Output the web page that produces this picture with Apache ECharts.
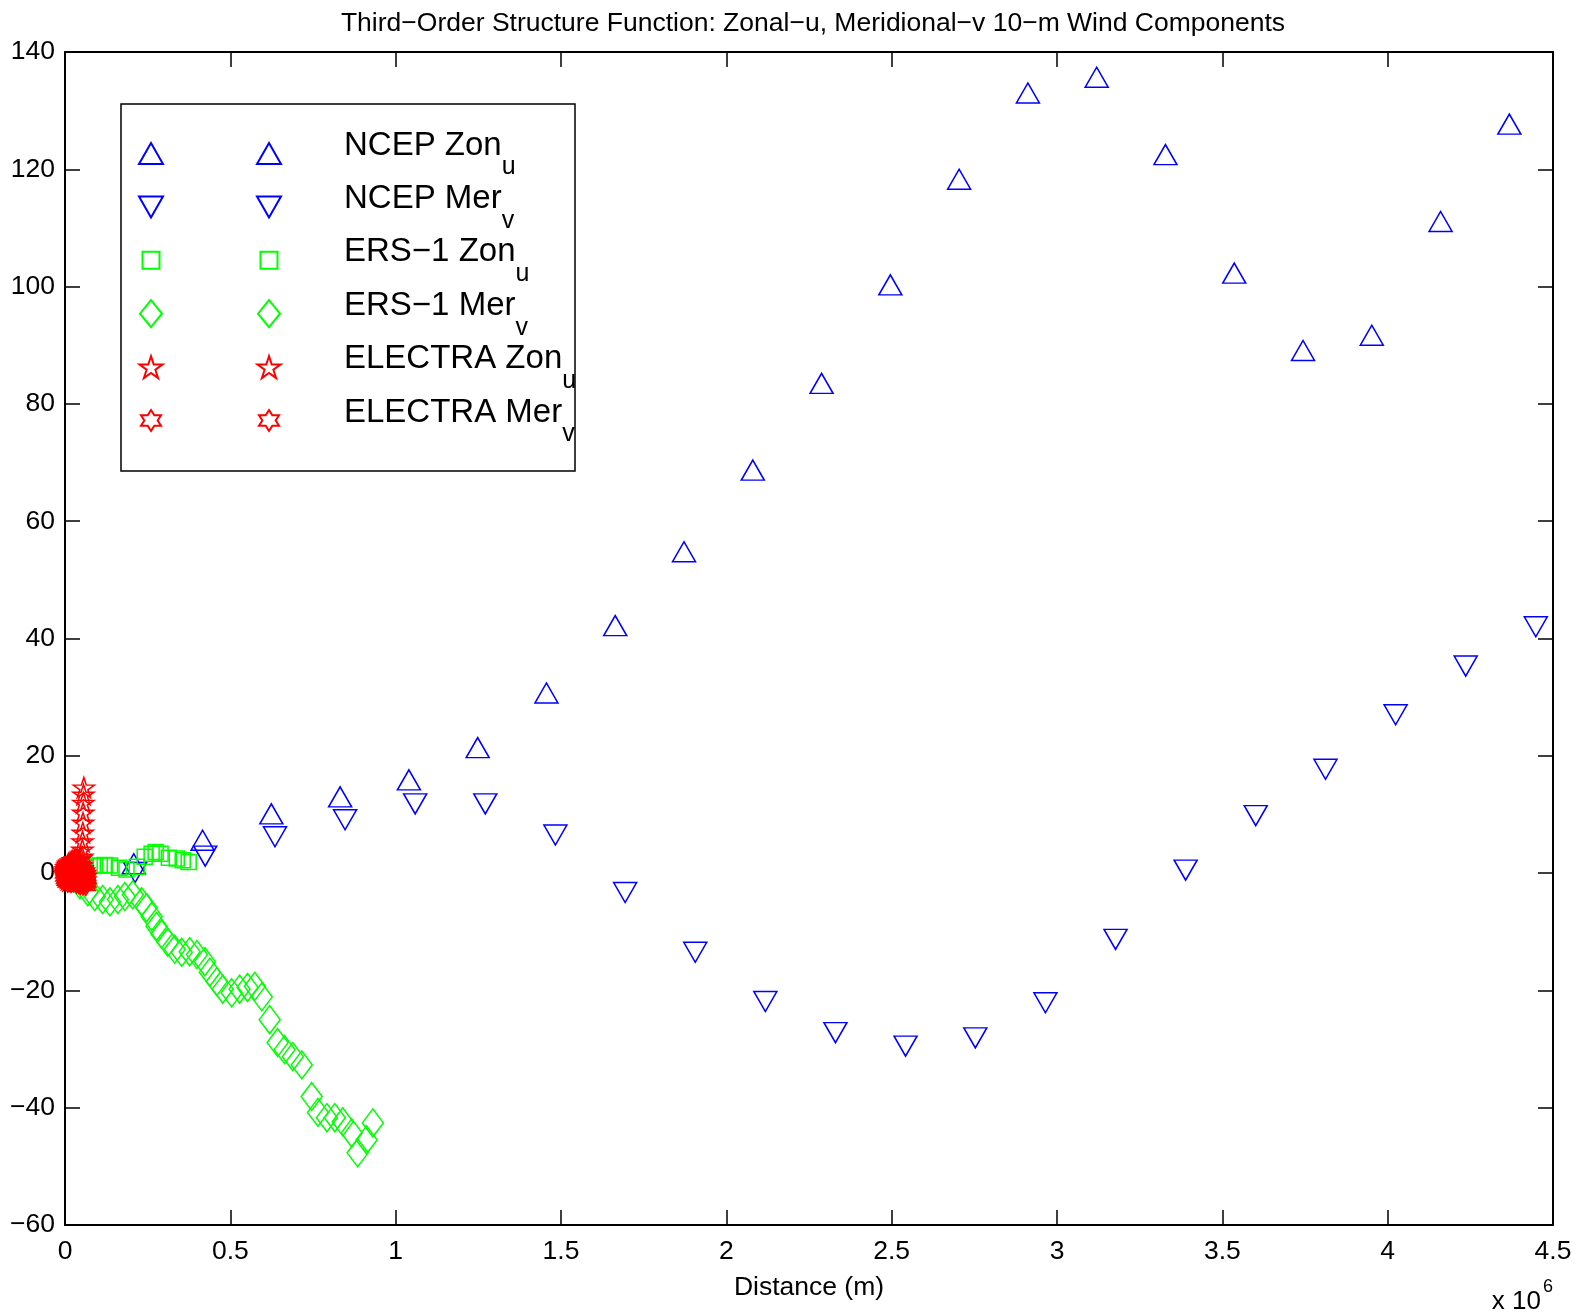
<!DOCTYPE html>
<html><head><meta charset="utf-8">
<script src="https://cdn.jsdelivr.net/npm/echarts@6/dist/echarts.min.js"></script>
<style>html,body{margin:0;padding:0;background:#fff}#c{width:1576px;height:1313px}</style>
</head><body><div id="c"></div><script>
// ---- data (distance in units of 1e6 m) ----
const ncepZonX = [0.208,0.416,0.624,0.832,1.040,1.248,1.456,1.664,1.872,2.080,2.288,2.496,2.704,2.912,3.120,3.328,3.536,3.744,3.952,4.160,4.368];
const ncepZonY = [1.6,5.6,10.1,13.0,15.9,21.4,30.7,42.2,54.8,68.7,83.5,100.3,118.3,133.0,135.7,122.5,102.3,89.1,91.7,111.1,127.7];
const ncepMerX = [0.212,0.424,0.635,0.847,1.059,1.271,1.483,1.694,1.906,2.118,2.330,2.542,2.753,2.965,3.177,3.389,3.601,3.812,4.024,4.236,4.448];
const ncepMerY = [0.1,2.9,6.2,9.1,11.8,11.8,6.5,-3.3,-13.5,-21.9,-27.2,-29.5,-28.1,-22.1,-11.3,0.5,9.8,17.7,27.0,35.3,42.0];
const ersZonX = [0.021,0.042,0.063,0.084,0.105,0.120,0.136,0.163,0.186,0.217,0.241,0.262,0.274,0.289,0.314,0.338,0.356,0.374];
const ersZonY = [0.6,0.8,1.0,1.2,1.3,1.4,1.3,0.9,0.6,1.1,2.8,3.3,3.6,3.3,2.6,2.5,2.2,1.9];
const ersMerX = [0.045,0.069,0.090,0.114,0.136,0.160,0.181,0.205,0.232,0.247,0.262,0.277,0.292,0.311,0.332,0.353,0.377,0.399,0.423,0.438,0.459,0.477,0.504,0.528,0.552,0.574,0.595,0.619,0.643,0.664,0.689,0.716,0.746,0.765,0.792,0.816,0.840,0.867,0.885,0.912,0.931];
const ersMerY = [-2.0,-3.2,-4.0,-4.5,-4.9,-4.5,-4.0,-3.7,-4.9,-5.9,-7.4,-9.1,-10.4,-11.8,-13.0,-13.5,-13.4,-13.9,-15.1,-16.9,-18.5,-19.8,-20.4,-19.8,-19.5,-19.3,-21.1,-25.0,-28.9,-30.1,-31.3,-32.7,-38.1,-40.8,-41.7,-41.7,-42.4,-44.3,-47.7,-45.5,-42.6];
const electraZonX = [0.000,0.001,0.002,0.003,0.004,0.005,0.006,0.007,0.008,0.009,
  0.010,0.011,0.012,0.013,0.014,0.015,0.016,0.017,0.018,0.019,
  0.020,0.021,0.022,0.023,0.024,0.025,0.026,0.027,0.028,0.029,
  0.030,0.031,0.032,0.033,0.034,0.035,0.036,0.037,0.038,0.039,
  0.040,0.041,0.042,0.043,0.044,0.045,0.046,0.047,0.048,0.049,
  0.050,0.0515,0.0525,0.053,0.054,0.0545,0.055,0.0555,0.056,0.057];
const electraZonY = [0.0,0.3,-0.4,0.7,-0.2,1.0,-0.8,0.5,1.3,-1.1,
  0.2,1.6,-0.6,0.9,-1.3,1.8,0.4,-1.0,1.2,2.0,
  -0.4,0.6,1.5,-1.2,2.2,0.9,-0.7,1.7,0.1,-1.5,
  1.1,2.4,-0.3,0.8,-1.1,1.9,0.4,-0.9,1.4,2.1,
  -0.6,1.0,-1.4,2.3,0.2,1.6,-0.8,0.7,2.5,-0.2,
  1.3,2.8,4.0,5.4,6.9,8.6,10.3,12.0,13.4,14.6];
const electraMerX = [0.000,0.001,0.002,0.003,0.004,0.005,0.006,0.007,0.008,0.009,
  0.010,0.011,0.012,0.013,0.014,0.015,0.016,0.017,0.018,0.019,
  0.020,0.021,0.022,0.023,0.024,0.025,0.026,0.027,0.028,0.029,
  0.030,0.031,0.032,0.033,0.034,0.035,0.036,0.037,0.038,0.039,
  0.040,0.041,0.042,0.043,0.044,0.045,0.046,0.047,0.048,0.049,
  0.050,0.051,0.052,0.053,0.054,0.055,0.056,0.057,0.058,0.059,
  0.060,0.061,0.062,0.063,0.064,0.065,0.066];
const electraMerY = [0.0,-0.5,0.6,-0.9,0.3,-1.2,1.0,-0.4,-1.5,0.8,
  -0.2,1.3,-1.0,0.5,-1.4,0.1,1.1,-0.7,-1.6,0.6,
  -0.3,1.4,-1.1,0.2,-0.8,0.9,-1.5,-0.4,0.7,-1.2,
  0.3,-0.9,-0.2,-0.6,1.2,-1.7,0.4,-1.0,0.8,-1.3,
  -0.1,1.0,-1.8,0.5,-0.7,-1.4,0.2,-1.9,0.6,-0.5,
  -1.1,0.9,-1.6,-0.3,0.1,-2.0,-0.8,0.4,-1.3,-0.6,
  -1.7,0.0,-1.0,-2.1,-0.4,-1.5,-0.9];

const seriesNames = ['NCEP Zon_u','NCEP Mer_v','ERS-1 Zon_u','ERS-1 Mer_v','ELECTRA Zon_u','ELECTRA Mer_v'];
const legendMain = ['NCEP Zon','NCEP Mer','ERS\u22121 Zon','ERS\u22121 Mer','ELECTRA Zon','ELECTRA Mer'];
const legendSub = ['u','v','u','v','u','v'];
const titleText = 'Third\u2212Order Structure Function: Zonal\u2212u, Meridional\u2212v 10\u2212m Wind Components';

// ---- styling ----
const FF = '"Liberation Sans", Arial, Helvetica, sans-serif';
const FS = 26.5;
const BLUE = '#0000ff', GREEN = '#00ff00', RED = '#ff0000';
const SYM_UP = 'path://M50,0 L100,86 L0,86 Z';
const SYM_DOWN = 'path://M0,0 L100,0 L50,86 Z';
const SYM_STAR = 'path://M50,0 L61.23,34.55 L97.55,34.55 L68.16,55.9 L79.39,90.45 L50,69.1 L20.61,90.45 L31.84,55.9 L2.45,34.55 L38.77,34.55 Z';
const SYM_HEX = 'path://M50,0 L64.43,25 L93.3,25 L78.87,50 L93.3,75 L64.43,75 L50,100 L35.57,75 L6.7,75 L21.13,50 L6.7,25 L35.57,25 Z';
const BOX = 'M0,0 M28,28 ';
const legendIcons = [
  'path://' + BOX + 'M14,3.5 L26,24.5 L2,24.5 Z',
  'path://' + BOX + 'M2,3.5 L26,3.5 L14,24.5 Z',
  'path://' + BOX + 'M5.5,5.5 L22.5,5.5 L22.5,22.5 L5.5,22.5 Z',
  'path://' + BOX + 'M14,0.5 L25,14 L14,27.5 L3,14 Z',
  'path://' + BOX + 'M14,3.06 L16.72,11.42 L25.51,11.42 L18.39,16.59 L21.11,24.95 L14,19.78 L6.89,24.95 L9.61,16.59 L2.49,11.42 L11.28,11.42 Z',
  'path://' + BOX + 'M14,3.5 L17.33,8.75 L24,8.75 L20.67,14 L24,19.25 L17.33,19.25 L14,24.5 L10.67,19.25 L4,19.25 L7.33,14 L4,8.75 L10.67,8.75 Z'
];

function pairs(xs, ys) { return xs.map((x, i) => [x, ys[i]]); }
function sc(name, xs, ys, symbol, size, color) {
  return {
    type: 'scatter', name: name, data: pairs(xs, ys),
    symbol: symbol, symbolSize: size,
    itemStyle: { color: 'rgba(0,0,0,0)', borderColor: color, borderWidth: 1.5, opacity: 1 },
    emphasis: { disabled: true }, silent: true
  };
}

function makeLegend(left, textColor) {
  return {
    show: true, orient: 'vertical', left: left, top: 126, padding: 0,
    itemWidth: 28, itemHeight: 28, itemGap: -1.6, selectedMode: false,
    symbolKeepAspect: true,
    data: seriesNames.map((n, i) => ({ name: n, icon: legendIcons[i] })),
    formatter: function (name) {
      const i = seriesNames.indexOf(name);
      return '{g| }{m|' + legendMain[i] + '}{s|' + legendSub[i] + '}';
    },
    textStyle: {
      color: textColor, fontFamily: FF,
      rich: {
        g: { width: 56, fontSize: 10, lineHeight: 10 },
        m: { fontSize: 33, lineHeight: 30, padding: [0, 0, 16, 0], fontFamily: FF, color: textColor },
        s: { fontSize: 25, lineHeight: 22, padding: [29, 0, 1, 0], fontFamily: FF, color: textColor }
      }
    }
  };
}

const axisLineStyle = { show: true, onZero: false, lineStyle: { color: '#000', width: 2 } };
const tickStyle = { show: true, inside: true, length: 15, lineStyle: { color: '#000', width: 1.5 } };
const labelStyle = { color: '#000', fontSize: FS, fontFamily: FF };

const chart = echarts.init(document.getElementById('c'), null, { renderer: 'canvas' });
chart.setOption({
  animation: false,
  backgroundColor: '#fff',
  title: {
    text: titleText, left: 808, top: 5, textAlign: 'center',
    textStyle: { color: '#000', fontSize: FS, fontWeight: 'normal', fontFamily: FF }
  },
  grid: { left: 65, right: 23, top: 52, bottom: 88, containLabel: false, outerBoundsMode: 'none' },
  legend: [makeLegend(136, 'rgba(0,0,0,0)'), makeLegend(254, '#000')],
  xAxis: [
    {
      type: 'value', min: 0, max: 4.5, interval: 0.5, position: 'bottom',
      axisLine: axisLineStyle, axisTick: tickStyle, splitLine: { show: false },
      axisLabel: Object.assign({ margin: 13, formatter: v => String(v) }, labelStyle),
      name: 'Distance (m)', nameLocation: 'middle', nameGap: 49,
      nameTextStyle: { color: '#000', fontSize: FS, fontFamily: FF }
    },
    {
      type: 'value', min: 0, max: 4.5, interval: 0.5, position: 'top',
      axisLine: axisLineStyle, axisTick: tickStyle, splitLine: { show: false },
      axisLabel: { show: false }
    }
  ],
  yAxis: [
    {
      type: 'value', min: -60, max: 140, interval: 20, position: 'left',
      axisLine: axisLineStyle, axisTick: tickStyle, splitLine: { show: false },
      axisLabel: Object.assign({ margin: 10, formatter: v => (v < 0 ? '\u2212' + Math.abs(v) : String(v)) }, labelStyle)
    },
    {
      type: 'value', min: -60, max: 140, interval: 20, position: 'right',
      axisLine: axisLineStyle, axisTick: tickStyle, splitLine: { show: false },
      axisLabel: { show: false }
    }
  ],
  graphic: [
    { type: 'rect', shape: { x: 121, y: 104, width: 454, height: 367 }, style: { fill: 'none', stroke: '#000', lineWidth: 1.5 }, z: 1, silent: true },
    { type: 'text', x: 1541, y: 1302, style: { text: 'x 10', fill: '#000', font: '26px ' + FF, textAlign: 'right', textVerticalAlign: 'middle' }, silent: true },
    { type: 'text', x: 1543, y: 1287, style: { text: '6', fill: '#000', font: '18px ' + FF, textAlign: 'left', textVerticalAlign: 'middle' }, silent: true }
  ],
  series: [
    sc(seriesNames[0], ncepZonX, ncepZonY, SYM_UP, [23, 20], BLUE),
    sc(seriesNames[1], ncepMerX, ncepMerY, SYM_DOWN, [23, 20], BLUE),
    sc(seriesNames[2], ersZonX, ersZonY, 'rect', 15, GREEN),
    sc(seriesNames[3], ersMerX, ersMerY, 'diamond', [21, 28], GREEN),
    sc(seriesNames[4], electraZonX, electraZonY, SYM_STAR, [21, 20], RED),
    sc(seriesNames[5], electraMerX, electraMerY, SYM_HEX, [19, 20], RED)
  ]
});
</script></body></html>
